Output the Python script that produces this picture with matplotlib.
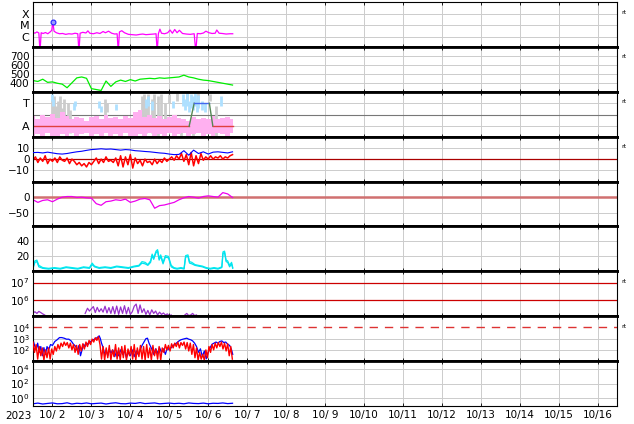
import numpy as np
import matplotlib.pyplot as plt
from matplotlib.ticker import NullLocator

plt.rcParams['font.family'] = 'DejaVu Sans'

# x axis: day of October 2023 (UTC), 10/1 12:00 .. 10/16 12:00
days = list(range(2, 17))
day_labels = ['10/%2d' % d for d in days]

# regular sample grids (day of month)
t3h = 1.5 + 0.125 * np.arange(42)
t90m = 1.5 + 0.0625 * np.arange(83)
t1h = 1.5 + 0.04 * np.arange(129)

# panel 1: X-ray flux (W/m2)
xray_t = [1.50, 1.55, 1.60, 1.65, 1.68, 1.71, 1.76, 1.82, 1.88, 1.94,
          1.98, 2.01, 2.04, 2.10, 2.18, 2.26, 2.34, 2.42, 2.50, 2.58,
          2.65, 2.68, 2.71, 2.78, 2.86, 2.91, 2.96, 3.05, 3.14, 3.22,
          3.30, 3.36, 3.44, 3.52, 3.60, 3.66, 3.69, 3.72, 3.78, 3.85,
          3.95, 4.05, 4.15, 4.25, 4.32, 4.40, 4.50, 4.60, 4.66, 4.69,
          4.72, 4.76, 4.80, 4.88, 4.96, 5.02, 5.08, 5.14, 5.20, 5.26,
          5.34, 5.44, 5.54, 5.64, 5.68, 5.72, 5.80, 5.88, 5.94, 6.02,
          6.10, 6.18, 6.22, 6.28, 6.36, 6.46, 6.56, 6.63]
xray_v = [2.4e-6, 2.0e-6, 2.6e-6, 2.1e-6, 5e-8, 2.2e-6, 1.9e-6, 2.3e-6, 1.8e-6, 2.6e-6,
          3.5e-6, 2.0e-5, 3.0e-6, 2.2e-6, 1.8e-6, 1.9e-6, 1.6e-6, 1.8e-6, 1.7e-6, 2.0e-6,
          1.8e-6, 5e-8, 2.0e-6, 2.4e-6, 2.1e-6, 3.2e-6, 2.0e-6, 1.8e-6, 2.2e-6, 1.9e-6,
          2.8e-6, 2.2e-6, 3.0e-6, 2.0e-6, 1.7e-6, 1.8e-6, 5e-8, 2.6e-6, 3.3e-6, 2.2e-6,
          1.6e-6, 1.5e-6, 1.4e-6, 1.6e-6, 1.7e-6, 1.5e-6, 1.6e-6, 1.7e-6, 1.8e-6, 5e-8,
          1.8e-6, 4.5e-6, 2.0e-6, 1.8e-6, 2.2e-6, 3.8e-6, 2.0e-6, 4.2e-6, 2.2e-6, 3.6e-6,
          1.9e-6, 1.7e-6, 1.6e-6, 1.8e-6, 5e-8, 1.9e-6, 1.8e-6, 2.1e-6, 3.0e-6, 2.2e-6,
          1.9e-6, 2.0e-6, 3.8e-6, 2.0e-6, 1.9e-6, 1.7e-6, 1.8e-6, 1.8e-6]
flare_t = [2.01]
flare_v = [2.0e-5]

# panel 2: solar wind speed (km/s), 3-hour grid
speed = [425, 415, 440, 405, 410, 395, 385, 345, 400, 455,
         465, 450, 335, 325, 315, 420, 360, 410, 430, 415,
         435, 420, 440, 445, 450, 445, 455, 450, 455, 460,
         465, 485, 465, 455, 440, 430, 425, 415, 405, 395,
         385, 375]

# panel 3: A / T status
pink_lo = [-0.40, -0.35, -0.45, -0.30, -0.40, -0.45, -0.35, -0.40, -0.30, -0.40,
           -0.35, -0.30, -0.40, -0.35, -0.40, -0.30, -0.45, -0.35, -0.40, -0.30,
           -0.40, -0.45, -0.35, -0.40, -0.30, -0.40, -0.35, -0.45, -0.30, -0.40,
           -0.35, -0.30, -0.40, -0.35, -0.30, -0.40, -0.35, -0.40, -0.30, -0.35,
           -0.40, -0.30]
pink_hi = [0.45, 0.30, 0.50, 0.40, 0.55, 0.35, 0.60, 0.45, 0.30, 0.40,
           0.35, 0.25, 0.40, 0.45, 0.30, 0.50, 0.35, 0.40, 0.30, 0.45,
           0.35, 0.60, 0.70, 0.40, 0.50, 0.35, 0.45, 0.30, 0.40, 0.50,
           0.35, 0.30, 0.25, 0.40, 0.30, 0.35, 0.30, 0.45, 0.30, 0.35,
           0.40, 0.30]
gray_t = [2.00, 2.05, 2.10, 2.15, 2.20, 2.25, 2.30, 2.40, 2.45, 3.35,
          3.40, 4.30, 4.35, 4.40, 4.45, 4.55, 4.60, 4.70, 4.80, 4.90,
          5.00, 5.10, 5.20, 5.30, 5.45, 5.60, 5.75, 5.90, 6.05, 6.20]
gray_lo = [-0.30, 0.20, -0.20, 0.30, -0.30, 0.10, -0.20, 0.20, -0.30, 0.50,
           0.60, -0.20, 0.30, -0.30, 0.20, -0.30, 0.00, -0.40, -0.30, -0.40,
           1.00, -0.45, 1.10, -0.45, 1.10, -0.45, 1.00, -0.45, 1.10, -0.40]
gray_hi = [1.20, 1.30, 0.90, 1.10, 1.30, 0.80, 1.20, 1.00, 0.70, 1.20,
           1.00, 1.30, 1.40, 1.10, 1.40, 1.20, 1.40, 1.30, 1.40, 1.00,
           1.40, -0.20, 1.45, -0.25, 1.45, -0.20, 1.45, -0.20, 1.40, 0.90]
sky_t = [2.00, 2.02, 2.55, 2.58, 3.20, 3.25, 3.62, 4.40, 4.45, 4.55,
         5.10, 5.35, 5.40, 5.45, 5.50, 5.55, 5.60, 5.65, 5.70, 5.75,
         5.85, 5.92, 6.32]
sky_lo = [1.10, 0.90, 0.70, 0.90, 0.80, 0.60, 0.70, 0.80, 0.90, 0.70,
          0.80, 0.90, 0.70, 0.90, 0.60, 0.80, 0.70, 0.90, 0.60, 0.80,
          0.70, 0.60, 0.90]
sky_hi = [1.40, 1.20, 1.00, 1.10, 1.10, 0.90, 0.95, 1.20, 1.30, 1.10,
          1.10, 1.40, 1.20, 1.45, 1.10, 1.40, 1.30, 1.45, 1.20, 1.35,
          1.10, 1.00, 1.30]
level_t = [1.50, 5.51, 5.64, 6.03, 6.12, 6.63]
level_v = [0, 0, 1, 1, 0, 0]

# panel 4: IMF Bt (3 h grid) and Bz (90 min grid), nT
bt = [5.8, 6.0, 5.5, 6.2, 5.5, 4.8, 4.5, 5.0, 5.8, 6.5,
      7.0, 7.8, 8.5, 8.8, 9.2, 8.8, 9.0, 8.5, 8.0, 8.5,
      8.2, 7.5, 7.2, 6.8, 6.5, 6.0, 5.5, 5.2, 4.5, 4.0,
      4.2, 7.5, 3.5, 8.0, 5.0, 6.5, 4.5, 6.2, 6.5, 6.0,
      5.5, 6.5]
bz = [-1, 2, -3, 1, -2, 3, -4, 0, -2,
      1, -3, 2, -1, -2, 1, -4, 0,
      -2, -5, -3, -6, -4, -7, -3, -5,
      -2, 1, -4, 0, -3, 2, -2, -1,
      -3, 1, -6, 3, -7, 2, -5, 4,
      -8, 1, -4, -1, -6, 0, -3, -2,
      -5, 0, -4, -1, -3, 1, -2, 0,
      2, -1, 3, 0, 5, -2, 4, -5,
      6, -6, 3, -4, 5, -1, 2, 0,
      3, 0, 2, 1, 3, 0, 2, 1, 3, 4]

# panel 5: Dst (nT), 3 h grid
dst = [-10, -18, -12, -10, -16, -8, -2, 0, 0, -3,
       -2, -4, -5, -22, -27, -16, -14, -10, -12, -8,
       -18, -14, -8, -6, -10, -36, -28, -26, -22, -18,
       -10, -4, 0, -2, -5, 0, 2, 0, -2, 12,
       8, -3]

# panel 6: cyan index (two sources)
kp_t = [1.50, 1.55, 1.60, 1.65, 1.75, 1.90, 2.05, 2.20, 2.35, 2.50,
        2.65, 2.80, 2.95, 3.02, 3.08, 3.20, 3.35, 3.50, 3.65, 3.80,
        3.95, 4.10, 4.22, 4.30, 4.38, 4.45, 4.52, 4.56, 4.60, 4.66,
        4.70, 4.74, 4.78, 4.84, 4.90, 4.98, 5.05, 5.12, 5.20, 5.30,
        5.38, 5.42, 5.48, 5.52, 5.58, 5.66, 5.75, 5.85, 5.95, 6.05,
        6.15, 6.25, 6.35, 6.38, 6.42, 6.46, 6.50, 6.55, 6.60, 6.63]
kp_a = [6, 14, 15, 8, 5, 4, 5, 4, 6, 5,
        4, 6, 5, 11, 7, 5, 6, 5, 7, 6,
        5, 7, 8, 13, 12, 9, 14, 23, 18, 27,
        29, 17, 22, 12, 21, 20, 8, 5, 4, 5,
        4, 21, 22, 13, 12, 9, 8, 7, 5, 4,
        5, 4, 6, 26, 27, 15, 14, 8, 12, 5]
kp_b = [4, 12, 13, 6, 4, 3, 4, 3, 5, 4,
        3, 5, 4, 9, 6, 4, 5, 4, 6, 5,
        4, 6, 7, 11, 10, 8, 12, 21, 16, 25,
        27, 15, 20, 10, 19, 18, 6, 4, 3, 4,
        3, 19, 20, 11, 10, 8, 7, 6, 4, 3,
        4, 3, 5, 24, 25, 13, 12, 6, 10, 4]

# panel 7: electron flux (gaps = nan)
nan = np.nan
e_t = [1.50, 1.55, 1.60, 1.65, 1.70, 1.75, 1.80, 1.81,
       2.84, 2.90, 2.95, 3.00, 3.05, 3.10, 3.15, 3.20, 3.25, 3.30,
       3.35, 3.40, 3.45, 3.50, 3.55, 3.60, 3.65, 3.70, 3.75, 3.80,
       3.85, 3.90, 3.95, 4.00, 4.05, 4.10, 4.15, 4.20, 4.25, 4.30,
       4.35, 4.40, 4.45, 4.50, 4.55, 4.60, 4.65, 4.70, 4.75, 4.80,
       4.85, 4.90, 4.95, 5.00, 5.05, 5.06,
       5.40, 5.45, 5.50, 5.55, 5.60, 5.65, 5.70]
e_v = [1.7e5, 2.0e5, 1.6e5, 2.1e5, 1.8e5, 1.5e5, 1.3e5, nan,
       1.6e5, 3.2e5, 2.2e5, 3.0e5, 4.0e5, 1.8e5, 3.6e5, 2.0e5, 3.0e5, 1.9e5,
       4.2e5, 1.7e5, 3.5e5, 1.6e5, 4.0e5, 1.5e5, 4.3e5, 1.4e5, 3.8e5, 1.6e5,
       4.5e5, 1.5e5, 3.6e5, 1.4e5, 2.0e5, 4.2e5, 5.6e5, 1.6e5, 5.0e5, 1.8e5,
       3.0e5, 1.4e5, 2.4e5, 1.3e5, 2.6e5, 1.6e5, 2.2e5, 1.3e5, 1.9e5, 1.4e5,
       1.7e5, 1.3e5, 1.5e5, 1.2e5, 1.3e5, nan,
       1.3e5, 1.6e5, 1.2e5, 1.3e5, 1.6e5, 1.2e5, 1.3e5]

# panel 8: particle flux, blue (irregular) and red (1 h grid)
pb_t = [1.50, 1.54, 1.58, 1.62, 1.66, 1.70, 1.74, 1.78, 1.82, 1.86,
        1.90, 1.95, 2.00, 2.06, 2.12, 2.18, 2.24, 2.30, 2.36, 2.42,
        2.48, 2.54, 2.60, 2.64, 2.68, 2.72, 2.76, 2.80, 2.84, 2.88,
        2.92, 2.96, 3.00, 3.05, 3.10, 3.15, 3.20, 3.23, 3.26, 3.30,
        3.34, 3.38, 3.42, 3.46, 3.50, 3.55, 3.60, 3.65, 3.70, 3.75,
        3.80, 3.85, 3.90, 3.95, 4.00, 4.05, 4.10, 4.15, 4.20, 4.25,
        4.30, 4.35, 4.40, 4.44, 4.48, 4.52, 4.56, 4.60, 4.65, 4.70,
        4.75, 4.80, 4.85, 4.90, 4.95, 5.00, 5.05, 5.10, 5.15, 5.20,
        5.25, 5.30, 5.35, 5.40, 5.45, 5.50, 5.55, 5.60, 5.65, 5.70,
        5.75, 5.80, 5.85, 5.90, 5.95, 6.00, 6.05, 6.10, 6.15, 6.20,
        6.25, 6.30, 6.35, 6.40, 6.45, 6.50, 6.55, 6.60, 6.63]
pb_v = [800, 250, 100, 400, 60, 200, 30, 160, 40, 200,
        100, 300, 250, 560, 800, 1250, 1250, 1100, 900, 900,
        630, 320, 200, 80, 250, 30, 100, 320, 200, 400,
        320, 500, 630, 800, 1000, 1250, 1800, 1000, 400, 160,
        40, 100, 30, 125, 50, 100, 25, 80, 30, 100,
        40, 80, 20, 60, 30, 100, 25, 80, 40, 100,
        250, 500, 1000, 1100, 400, 200, 100, 40, 125, 50,
        160, 60, 125, 40, 160, 100, 160, 250, 320, 450,
        630, 800, 900, 1000, 1100, 900, 800, 630, 400, 200,
        60, 125, 25, 80, 16, 60, 160, 320, 400, 500,
        400, 560, 630, 450, 500, 320, 250, 100, 40]
pr_v = [500, 60, 300, 15, 200, 30, 150, 12, 100, 20,
        150, 15, 120, 40, 200, 80, 300, 120, 400, 200,
        500, 250, 450, 150, 400, 100, 300, 60, 250, 40,
        300, 80, 350, 120, 500, 200, 700, 300, 900, 500,
        1200, 700, 1500, 300, 15, 200, 12, 150, 20, 250,
        12, 100, 25, 300, 15, 150, 12, 200, 20, 250,
        12, 120, 30, 200, 15, 300, 12, 150, 25, 250,
        15, 200, 12, 300, 20, 150, 12, 250, 30, 120,
        15, 200, 12, 150, 60, 300, 100, 250, 80, 350,
        150, 400, 200, 500, 150, 450, 250, 500, 120, 450,
        80, 400, 40, 300, 20, 150, 12, 60, 15, 40,
        12, 100, 20, 200, 60, 300, 100, 400, 150, 450,
        200, 500, 120, 400, 80, 350, 30, 200, 15]

# panel 9: flux, 3 h grid
low_v = [0.16, 0.20, 0.15, 0.18, 0.21, 0.16, 0.17, 0.22, 0.15, 0.19,
         0.17, 0.21, 0.16, 0.18, 0.20, 0.15, 0.19, 0.22, 0.17, 0.16,
         0.20, 0.18, 0.23, 0.17, 0.19, 0.21, 0.16, 0.18, 0.20, 0.17,
         0.19, 0.16, 0.21, 0.18, 0.17, 0.20, 0.16, 0.19, 0.18, 0.21,
         0.17, 0.19]

# ---------------------------------------------------------------
W, H = 634, 424
fig = plt.figure(figsize=(W / 100, H / 100), dpi=100)
left, right, top, bottom = 33, 617, 2, 406
ph = (bottom - top) / 9
axes = []
for i in range(9):
    y0 = 1 - (top + (i + 1) * ph) / H
    axes.append(fig.add_axes([left / W, y0, (right - left) / W, ph / H]))

grid_c = '#cccccc'
for i, ax in enumerate(axes):
    ax.set_xlim(1.5, 16.5)
    ax.set_xticks(days)
    ax.grid(axis='x', color=grid_c, lw=0.7, zorder=0)
    ax.tick_params(axis='x', direction='in', length=2.5, top=True,
                   labelbottom=(i == 8), labelsize=7.5, pad=3, width=0.6)
    ax.tick_params(axis='y', length=0, labelsize=7.5, pad=2.5)
    ax.spines['top'].set_linewidth(2.0 if i > 0 else 0.8)
    ax.spines['bottom'].set_linewidth(2.0 if i < 8 else 0.8)
    ax.spines['left'].set_linewidth(0.8)
    ax.spines['right'].set_linewidth(0.8)
    ax.set_axisbelow(True)
axes[8].set_xticklabels(day_labels)
fig.text(18 / W, 1 - 416 / H, '2023', ha='center', va='center', fontsize=7.5)


def hgrid(ax, vals, **kw):
    for v in vals:
        ax.axhline(v, **{'color': grid_c, 'lw': 0.7, 'zorder': 0.5, **kw})


# 1: X-ray
ax = axes[0]
ax.set_yscale('log')
ax.set_ylim(10 ** -6.88, 1e-3)
ax.set_yticks([1e-6, 1e-5, 1e-4])
ax.set_yticklabels(['C', 'M', 'X'], fontsize=8)
ax.yaxis.set_minor_locator(NullLocator())
hgrid(ax, [1e-6, 1e-5, 1e-4])
ax.plot(xray_t, xray_v, color='#ff00ff', lw=0.9)
ax.plot(flare_t, flare_v, 'o', ms=3.5, mfc='#9999ff', mec='#2222ff', mew=0.8)

# 2: solar wind speed
ax = axes[1]
ax.set_ylim(300, 800)
ax.set_yticks([400, 500, 600, 700])
hgrid(ax, [400, 500, 600, 700])
ax.plot(t3h, speed, color='#00ee00', lw=0.9)

# 3: A/T status
ax = axes[2]
ax.set_ylim(-0.45, 1.5)
ax.set_yticks([0, 1])
ax.set_yticklabels(['A', 'T'], fontsize=8)
hgrid(ax, [0, 1])
ax.axhline(0.5, color='#777777', lw=0.8, zorder=0.6)
ax.fill_between(t3h, pink_lo, pink_hi, step='mid', color='#ffb0f0', lw=0, zorder=1)
ax.vlines(gray_t, gray_lo, gray_hi, color='#cccccc', lw=2.0, zorder=0.9)
ax.vlines(sky_t, sky_lo, sky_hi, color='#aee0ff', lw=2.0, zorder=1.1)
for k in range(len(level_t) - 1):
    a, b = level_v[k], level_v[k + 1]
    c = '#e04040' if a == b == 0 else ('#4466ee' if a == b == 1 else '#558855')
    ax.plot(level_t[k:k + 2], level_v[k:k + 2], color=c, lw=1.0, zorder=2)

# 4: IMF
ax = axes[3]
ax.set_ylim(-20, 20)
ax.set_yticks([-10, 0, 10])
ax.set_yticklabels(['\u221210', '0', '10'])
hgrid(ax, [-10, 10])
ax.axhline(0, color='#aa0000', lw=0.9, zorder=0.6)
ax.plot(t90m, bz, color='#ff0000', lw=1.1, zorder=2)
ax.plot(t3h, bt, color='#0000ff', lw=0.8, zorder=3)

# 5: Dst
ax = axes[4]
ax.set_ylim(-92, 46)
ax.set_yticks([-50, 0])
ax.set_yticklabels(['\u221250', '0'])
hgrid(ax, [-50])
ax.axhline(0, color='#d07070', lw=1.8, zorder=0.6)
ax.plot(t3h, dst, color='#ee00ee', lw=0.9)

# 6: cyan index
ax = axes[5]
ax.set_ylim(0, 60)
ax.set_yticks([20, 40])
hgrid(ax, [20, 40])
ax.plot(kp_t, kp_a, color='#00eeee', lw=0.9)
ax.plot(kp_t, kp_b, color='#00e0f0', lw=0.9)

# 7: electron flux
ax = axes[6]
ax.set_yscale('log')
ax.set_ylim(1.1e5, 4.5e7)
ax.set_yticks([1e6, 1e7])
ax.yaxis.set_minor_locator(NullLocator())
for v in [1e6, 1e7]:
    ax.axhline(v, color='#cc0000', lw=0.9, zorder=0.6)
ax.plot(e_t, e_v, color='#9933cc', lw=0.9)

# 8: particle flux
ax = axes[7]
ax.set_yscale('log')
ax.set_ylim(10, 1e5)
ax.set_yticks([1e2, 1e3, 1e4])
ax.yaxis.set_minor_locator(NullLocator())
ax.tick_params(axis='y', labelsize=6.8)
hgrid(ax, [1e2, 1e3])
ax.axhline(1e4, color='#dd3333', lw=1.0, ls=(0, (6, 5)), zorder=0.6)
ax.plot(pb_t, pb_v, color='#0000ff', lw=0.9, zorder=2)
ax.plot(t1h, pr_v, color='#ff0000', lw=1.0, zorder=3)

# 9: low flux
ax = axes[8]
ax.set_yscale('log')
ax.set_ylim(10 ** -1.1, 10 ** 5.1)
ax.set_yticks([1e0, 1e2, 1e4])
ax.yaxis.set_minor_locator(NullLocator())
hgrid(ax, [1e0, 1e2, 1e4])
ax.plot(t3h, low_v, color='#0000ff', lw=0.9)

# "rt" markers on the right
for i in [0, 1, 2, 3, 6, 7]:
    fig.text(621 / W, 1 - (top + i * ph + 10) / H, 'rt', fontsize=4.5,
             ha='left', va='center')

fig.savefig('out.png', dpi=100)
